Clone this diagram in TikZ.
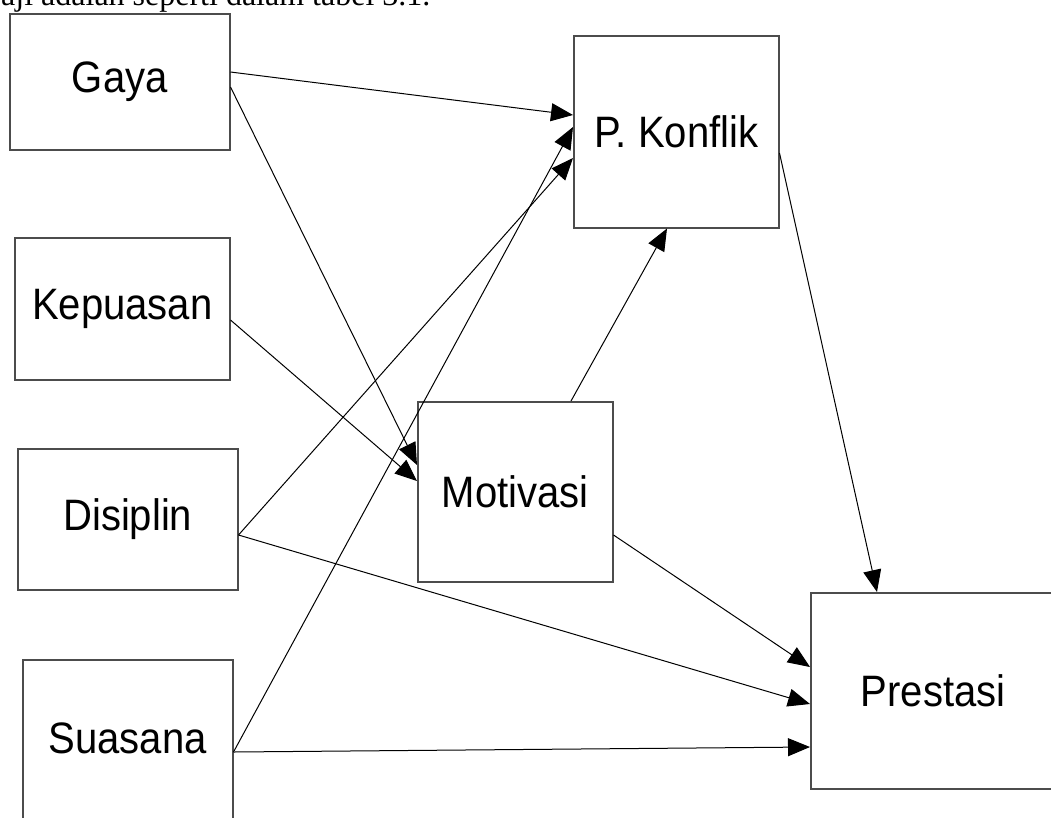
\documentclass[tikz,border=0pt]{standalone}
\usepackage{fontspec}
\setmainfont{Liberation Serif}
\newfontfamily\boxfont[FakeStretch=0.91]{Liberation Sans}
\usetikzlibrary{arrows.meta,calc}
\tikzset{
  box/.style={draw=black!70, line width=1.5pt, fill=white, inner sep=0pt,
    anchor=north west, font=\boxfont\fontsize{44}{50}\selectfont},
  conn/.style={draw=black, line width=1pt, -{Triangle[length=22pt,width=18pt]}},
  toptext/.style={anchor=base west, inner sep=0pt, font=\fontsize{32}{36}\selectfont}
}
\begin{document}
\begin{tikzpicture}[x=1pt,y=-1pt]
\useasboundingbox (0,0) rectangle (1051,817);
\clip (0,0) rectangle (1051,817);
\node[toptext] (caption) at (1,5) {aji adalah seperti dalam tabel 3.1.};
\node[box, minimum width=220pt, minimum height=136pt] (gaya) at (9,13) {Gaya};
\node[box, minimum width=215pt, minimum height=142pt] (kep) at (14,237) {Kepuasan};
\node[box, minimum width=220pt, minimum height=141pt] (dis) at (17,448) {Disiplin};
\node[box, minimum width=210pt, text height=94pt, text depth=77pt] (sua) at (22,659) {Suasana};
\node[box, minimum width=205pt, minimum height=192pt] (pk) at (573,35) {P. Konflik};
\node[box, minimum width=195pt, minimum height=180pt] (mot) at (417,401) {Motivasi};
\node[box, minimum width=245pt, minimum height=196pt] (pres) at (810,592) {Prestasi};

\draw[conn] ($(gaya.north east)+(0,59)$) -- ($(pk.north west)+(0,80)$);
\draw[conn] ($(gaya.north east)+(0,74)$) -- ($(mot.north west)+(0,64)$);
\draw[conn] ($(kep.north east)+(0,83)$) -- ($(mot.north west)+(0,80)$);
\draw[conn] ($(dis.north east)+(0,87)$) -- ($(pk.north west)+(0,123)$);
\draw[conn] ($(sua.north east)+(0,93)$) -- ($(pk.north west)+(0,92)$);
\draw[conn] ($(mot.north west)+(154,0)$) -- ($(pk.south west)+(94,0)$);
\draw[conn] ($(pk.north east)+(0,118)$) -- ($(pres.north west)+(67,0)$);
\draw[conn] ($(mot.north east)+(0,134)$) -- ($(pres.north west)+(0,75)$);
\draw[conn] ($(dis.north east)+(0,87)$) -- ($(pres.north west)+(0,112)$);
\draw[conn] ($(sua.north east)+(0,93)$) -- ($(pres.north west)+(0,155)$);
\end{tikzpicture}
\end{document}
